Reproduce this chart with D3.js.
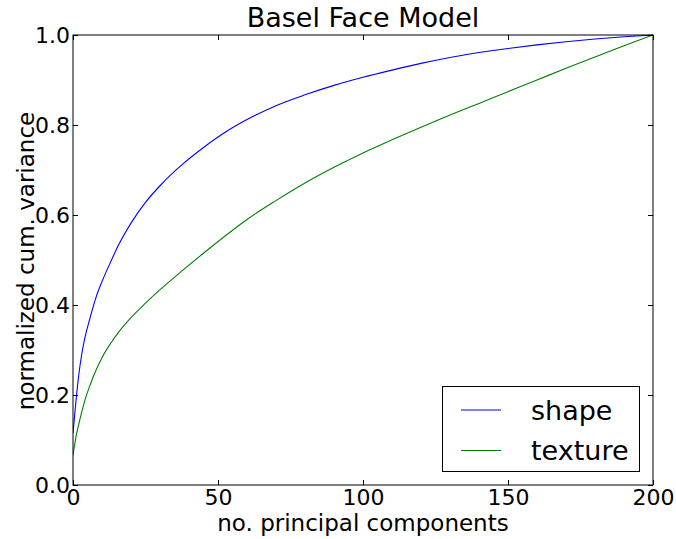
<!DOCTYPE html>
<html>
<head>
<meta charset="utf-8">
<script src="https://cdn.jsdelivr.net/npm/d3@7"></script>
<style>
  html, body { margin: 0; padding: 0; background: #fff; }
  svg { display: block; }
  text { font-family: "DejaVu Sans", sans-serif; fill: #000; }
</style>
</head>
<body>
<svg id="chart" width="676" height="539"></svg>
<script>
// ---- data ----
const components = [0, 1, 2, 3, 4, 6, 8, 10, 13, 16, 20, 25, 30, 38, 45, 53, 60, 70, 80, 90, 100, 110, 120, 130, 140, 150, 160, 170, 180, 190, 200];
const shapeValues = [0.115, 0.185, 0.245, 0.290, 0.324, 0.374, 0.418, 0.452, 0.496, 0.537, 0.582, 0.628, 0.665, 0.714, 0.750, 0.786, 0.812, 0.843, 0.867, 0.888, 0.906, 0.922, 0.937, 0.950, 0.961, 0.970, 0.978, 0.985, 0.991, 0.996, 1.0];
const textureValues = [0.066, 0.106, 0.1355, 0.162, 0.186, 0.224, 0.256, 0.283, 0.315, 0.342, 0.372, 0.404, 0.434, 0.478, 0.515, 0.556, 0.590, 0.632, 0.671, 0.706, 0.738, 0.767, 0.795, 0.822, 0.848, 0.874, 0.900, 0.926, 0.951, 0.976, 1.0];
const seriesNames = ["shape", "texture"];
const seriesColors = ["#0000ff", "#008000"];
const xTicks = [0, 50, 100, 150, 200];
const yTicks = [0.0, 0.2, 0.4, 0.6, 0.8, 1.0];
const title = "Basel Face Model";
const xLabel = "no. principal components";
const yLabel = "normalized cum. variance";

// ---- layout ----
const L = 73, R = 653, T = 35, B = 485;
const svg = d3.select("#chart");

const x = d3.scaleLinear().domain([0, 200]).range([L, R]);
const y = d3.scaleLinear().domain([0, 1]).range([B, T]);

// series lines
const series = [shapeValues, textureValues];
const line = d3.line()
  .x((d, i) => x(components[i]))
  .y(d => y(d))
  .curve(d3.curveMonotoneX);

svg.append("clipPath").attr("id", "clip")
  .append("rect").attr("x", L).attr("y", T - 1).attr("width", R - L).attr("height", B - T + 2);

series.forEach((vals, k) => {
  svg.append("path")
    .attr("d", line(vals))
    .attr("fill", "none")
    .attr("stroke", seriesColors[k])
    .attr("stroke-width", 1.1)
    .attr("clip-path", "url(#clip)");
});

// axes with inward ticks on all four sides
const tickLen = 5;
const fmtY = d3.format(".1f");
const axB = svg.append("g").attr("transform", `translate(0,${B})`)
  .call(d3.axisBottom(x).tickValues(xTicks).tickSizeInner(-tickLen).tickSizeOuter(0).tickPadding(3).tickFormat(d3.format("d")));
const axT = svg.append("g").attr("transform", `translate(0,${T})`)
  .call(d3.axisTop(x).tickValues(xTicks).tickSizeInner(-tickLen).tickSizeOuter(0).tickFormat(""));
const axL = svg.append("g").attr("transform", `translate(${L},0)`)
  .call(d3.axisLeft(y).tickValues(yTicks).tickSizeInner(-tickLen).tickSizeOuter(0).tickPadding(3).tickFormat(fmtY));
const axR = svg.append("g").attr("transform", `translate(${R},0)`)
  .call(d3.axisRight(y).tickValues(yTicks).tickSizeInner(-tickLen).tickSizeOuter(0).tickFormat(""));

[axB, axT, axL, axR].forEach(g => {
  g.select(".domain").remove();
  g.selectAll(".tick line").attr("stroke", "#000").attr("stroke-width", 1);
  g.selectAll(".tick text").attr("font-family", "DejaVu Sans").attr("font-size", 22).attr("fill", "#000");
});
axB.selectAll(".tick text").attr("dy", "0.76em");
axL.selectAll(".tick text").attr("dy", "0.36em");

// frame
svg.append("rect")
  .attr("x", L).attr("y", T).attr("width", R - L).attr("height", B - T)
  .attr("fill", "none").attr("stroke", "#000").attr("stroke-width", 1);

// title and labels
svg.append("text").attr("x", (L + R) / 2).attr("y", 27)
  .attr("text-anchor", "middle").attr("font-size", 27).text(title);
svg.append("text").attr("x", (L + R) / 2).attr("y", 531)
  .attr("text-anchor", "middle").attr("font-size", 23).text(xLabel);
svg.append("text")
  .attr("transform", `translate(34,${(T + B) / 2 + 1}) rotate(-90)`)
  .attr("text-anchor", "middle").attr("font-size", 23).text(yLabel);

// legend
const lg = svg.append("g");
lg.append("rect").attr("x", 442.5).attr("y", 386.5).attr("width", 197).attr("height", 85)
  .attr("fill", "#fff").attr("stroke", "#000").attr("stroke-width", 1);
seriesNames.forEach((name, k) => {
  const ly = 410 + k * 40.5;
  lg.append("line").attr("x1", 461).attr("x2", 501).attr("y1", ly).attr("y2", ly)
    .attr("stroke", seriesColors[k]).attr("stroke-width", 1.1);
  lg.append("text").attr("x", 531).attr("y", ly + 9.5).attr("font-size", 27).text(name);
});
</script>
</body>
</html>
